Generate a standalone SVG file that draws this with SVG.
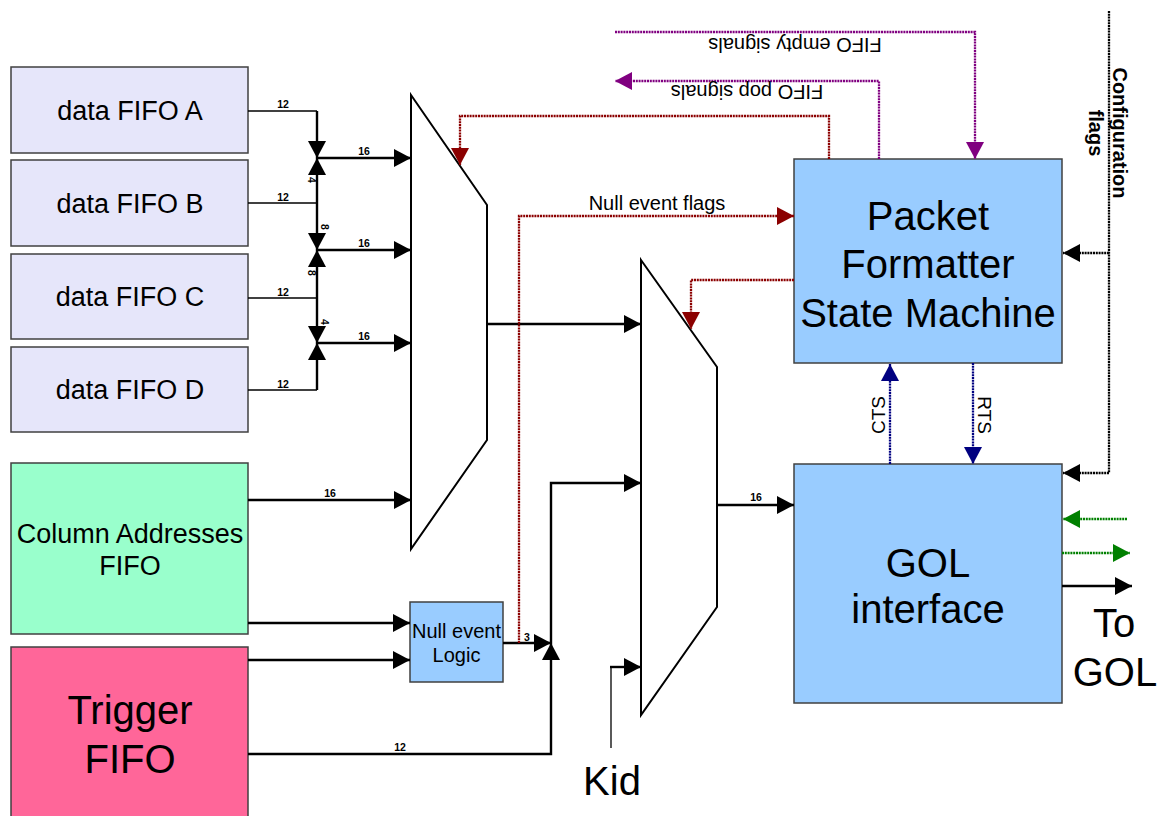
<svg xmlns="http://www.w3.org/2000/svg" width="1171" height="816" viewBox="0 0 1171 816">
<style>
text{font-family:"Liberation Sans",Arial,sans-serif;fill:#000}
.box{stroke:#404040;stroke-width:1.5}
.fifo{fill:#e6e6fa}
.blue{fill:#99ccff}
.mux{fill:#fff;stroke:#000;stroke-width:2}
.thin{stroke:#000;stroke-width:1.3;fill:none}
.thick{stroke:#000;stroke-width:2.4;fill:none}
.dot{stroke-width:2.3;stroke-dasharray:2 0.8;fill:none}
.red{stroke:#8b0000}
.pur{stroke:#800080}
.nav{stroke:#000080}
.grn{stroke:#008000}
.blk{stroke:#000}
.lbl{font-size:10.5px;font-weight:bold}
.big{font-size:40px}
.med{font-size:27px}
.t20{font-size:20px}
</style>
<defs>
<marker id="aB" markerUnits="userSpaceOnUse" markerWidth="19" markerHeight="19" refX="17" refY="9" orient="auto"><path d="M0,0 L17,9 L0,18 z" fill="#000"/></marker>
<marker id="aR" markerUnits="userSpaceOnUse" markerWidth="19" markerHeight="19" refX="17" refY="9" orient="auto"><path d="M0,0 L17,9 L0,18 z" fill="#8b0000"/></marker>
<marker id="aP" markerUnits="userSpaceOnUse" markerWidth="19" markerHeight="19" refX="17" refY="9" orient="auto"><path d="M0,0 L17,9 L0,18 z" fill="#800080"/></marker>
<marker id="aN" markerUnits="userSpaceOnUse" markerWidth="19" markerHeight="19" refX="17" refY="9" orient="auto"><path d="M0,0 L17,9 L0,18 z" fill="#000080"/></marker>
<marker id="aG" markerUnits="userSpaceOnUse" markerWidth="19" markerHeight="19" refX="17" refY="9" orient="auto"><path d="M0,0 L17,9 L0,18 z" fill="#008000"/></marker>
</defs>

<g id="fifoA"><rect class="box fifo" x="11" y="67" width="237" height="86"/><text class="med" x="130" y="120" text-anchor="middle">data FIFO A</text></g>
<g id="fifoB"><rect class="box fifo" x="11" y="160" width="237" height="86"/><text class="med" x="130" y="213" text-anchor="middle">data FIFO B</text></g>
<g id="fifoC"><rect class="box fifo" x="11" y="254" width="237" height="85"/><text class="med" x="130" y="306" text-anchor="middle">data FIFO C</text></g>
<g id="fifoD"><rect class="box fifo" x="11" y="347" width="237" height="85"/><text class="med" x="130" y="399" text-anchor="middle">data FIFO D</text></g>
<g id="colfifo"><rect class="box" fill="#99ffcc" x="11" y="463" width="237" height="171"/><text class="med" x="130" y="543" text-anchor="middle">Column Addresses</text><text class="med" x="130" y="575" text-anchor="middle">FIFO</text></g>
<g id="trigfifo"><rect class="box" fill="#ff6699" x="11" y="647" width="237" height="180"/><text class="big" x="130" y="724" text-anchor="middle">Trigger</text><text class="big" x="130" y="773" text-anchor="middle">FIFO</text></g>
<g id="mux1"><polygon class="mux" points="411,95 487,205 487,440 411,549"/></g>
<g id="mux2"><polygon class="mux" points="641,260 717,367 717,607 641,715"/></g>
<g id="nulllogic"><rect class="box blue" x="410" y="602" width="93" height="80"/><text class="t20" x="456.5" y="638" text-anchor="middle">Null event</text><text class="t20" x="456.5" y="662" text-anchor="middle">Logic</text></g>
<g id="packet"><rect class="box blue" x="794" y="159" width="268" height="204"/><text class="big" x="928" y="230" text-anchor="middle">Packet</text><text class="big" x="928" y="278" text-anchor="middle">Formatter</text><text class="big" x="928" y="327" text-anchor="middle">State Machine</text></g>
<g id="gol"><rect class="box blue" x="794" y="464" width="268" height="239"/><text class="big" x="928" y="577" text-anchor="middle">GOL</text><text class="big" x="928" y="623" text-anchor="middle">interface</text></g>

<g id="connectors">
<line class="thin" x1="248" y1="111" x2="317" y2="111"/>
<line class="thick" x1="317" y1="111" x2="317" y2="158" marker-end="url(#aB)"/>
<line class="thin" x1="248" y1="203" x2="317" y2="203"/>
<line class="thick" x1="317" y1="203" x2="317" y2="158" marker-end="url(#aB)"/>
<line class="thick" x1="317" y1="203" x2="317" y2="250" marker-end="url(#aB)"/>
<line class="thin" x1="248" y1="298" x2="317" y2="298"/>
<line class="thick" x1="317" y1="298" x2="317" y2="250" marker-end="url(#aB)"/>
<line class="thick" x1="317" y1="298" x2="317" y2="343" marker-end="url(#aB)"/>
<line class="thin" x1="248" y1="390" x2="317" y2="390"/>
<line class="thick" x1="317" y1="390" x2="317" y2="343" marker-end="url(#aB)"/>
<line class="thick" x1="317" y1="158" x2="411" y2="158" marker-end="url(#aB)"/>
<line class="thick" x1="317" y1="250" x2="411" y2="250" marker-end="url(#aB)"/>
<line class="thick" x1="317" y1="343" x2="411" y2="343" marker-end="url(#aB)"/>
<line class="thick" x1="248" y1="500" x2="411" y2="500" marker-end="url(#aB)"/>
<line class="thick" x1="487" y1="324" x2="641" y2="324" marker-end="url(#aB)"/>
<line class="thick" x1="248" y1="623" x2="410" y2="623" marker-end="url(#aB)"/>
<line class="thick" x1="248" y1="660" x2="410" y2="660" marker-end="url(#aB)"/>
<polyline class="thick" points="248,754 551,754 551,643" marker-end="url(#aB)"/>
<line class="thick" x1="503" y1="643" x2="551" y2="643" marker-end="url(#aB)"/>
<polyline class="thick" points="551,643 551,483 641,483" marker-end="url(#aB)"/>
<line class="thin" x1="611" y1="748" x2="611" y2="667"/>
<line class="thick" x1="610" y1="667" x2="641" y2="667" marker-end="url(#aB)"/>
<line class="thick" x1="717" y1="505" x2="794" y2="505" marker-end="url(#aB)"/>
<line class="thick" x1="1062" y1="586" x2="1132" y2="586" marker-end="url(#aB)"/>
<polyline class="dot red" points="519,643 519,216 794,216" marker-end="url(#aR)"/>
<polyline class="dot red" points="829,159 829,116 460,116 460,165" marker-end="url(#aR)"/>
<polyline class="dot red" points="794,280 691,280 691,329" marker-end="url(#aR)"/>
<polyline class="dot pur" points="615,32 975,32 975,159" marker-end="url(#aP)"/>
<polyline class="dot pur" points="879,159 879,81 615,81" marker-end="url(#aP)"/>
<polyline class="dot blk" points="1109,11 1109,473 1063,473" marker-end="url(#aB)"/>
<line class="dot blk" x1="1109" y1="253" x2="1063" y2="253" marker-end="url(#aB)"/>
<line class="dot nav" x1="890" y1="464" x2="890" y2="364" marker-end="url(#aN)"/>
<line class="dot nav" x1="973" y1="363" x2="973" y2="464" marker-end="url(#aN)"/>
<line class="dot grn" x1="1127" y1="519" x2="1063" y2="519" marker-end="url(#aG)"/>
<line class="dot grn" x1="1062" y1="553" x2="1130" y2="553" marker-end="url(#aG)"/>
</g>

<g id="labels">
<text class="lbl" x="283" y="108" text-anchor="middle">12</text>
<text class="lbl" x="283" y="201" text-anchor="middle">12</text>
<text class="lbl" x="283" y="296" text-anchor="middle">12</text>
<text class="lbl" x="283" y="388" text-anchor="middle">12</text>
<text class="lbl" x="364" y="155" text-anchor="middle">16</text>
<text class="lbl" x="364" y="247" text-anchor="middle">16</text>
<text class="lbl" x="364" y="340" text-anchor="middle">16</text>
<text class="lbl" x="330" y="497" text-anchor="middle">16</text>
<text class="lbl" x="756" y="501" text-anchor="middle">16</text>
<text class="lbl" x="400" y="751" text-anchor="middle">12</text>
<text class="lbl" x="527" y="641" text-anchor="middle">3</text>
<text class="lbl" x="311" y="183.5" text-anchor="middle" transform="rotate(90 311 180)">4</text>
<text class="lbl" x="324" y="230.5" text-anchor="middle" transform="rotate(90 324 227)">8</text>
<text class="lbl" x="311" y="276.5" text-anchor="middle" transform="rotate(90 311 273)">8</text>
<text class="lbl" x="324" y="325.5" text-anchor="middle" transform="rotate(90 324 322)">4</text>
<text class="t20" x="657" y="210" text-anchor="middle">Null event flags</text>
<text class="t20" x="795" y="52" text-anchor="middle" transform="rotate(180 795 45)">FIFO empty signals</text>
<text class="t20" x="747" y="99" text-anchor="middle" transform="rotate(180 747 92)">FIFO pop signals</text>
<text class="t20" font-weight="bold" x="1110" y="130" text-anchor="middle" transform="rotate(90 1110 133)">Configuration</text>
<text class="t20" font-weight="bold" x="1110" y="154" text-anchor="middle" transform="rotate(90 1110 133)">flags</text>
<text x="878" y="422" font-size="19" text-anchor="middle" transform="rotate(-90 878 415)">CTS</text>
<text x="985" y="422" font-size="19" text-anchor="middle" transform="rotate(90 985 415)">RTS</text>
<text class="big" x="1114" y="637" text-anchor="middle">To</text>
<text class="big" x="1115" y="686" text-anchor="middle">GOL</text>
<text class="big" x="612" y="795" text-anchor="middle">Kid</text>
</g>
</svg>
